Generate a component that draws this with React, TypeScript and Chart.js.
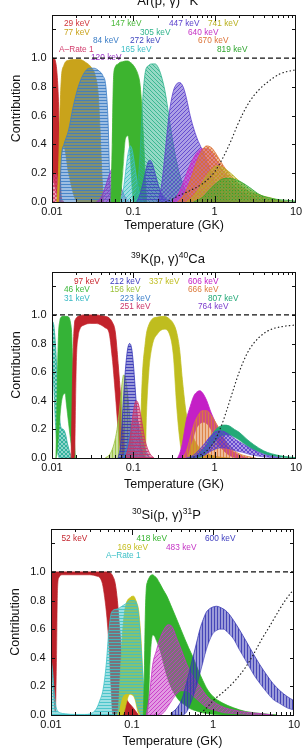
import React, { useEffect, useRef } from 'react';
import { Chart, registerables } from 'chart.js';

Chart.register(...registerables);

const FONT = "'Liberation Sans', Arial, Helvetica, sans-serif";
const INK = '#111111';

// Shared reference line at unit contribution
const unityT = [0.01, 10];
const unityV = [1, 1];

// ---------- 38Ar(p,γ)39K : contribution bands (lower / upper) ----------
const ar29T = [0.01, 0.0105, 0.011, 0.0115, 0.012, 0.0125, 0.013];
const ar29Hi = [1.0, 1.0, 0.98, 0.9, 0.7, 0.3, 0];
const ar29Lo = [0.2, 0.15, 0.1, 0.05, 0.02, 0, 0];

const arAT = [0.01, 0.0105, 0.011, 0.0115, 0.012, 0.013, 0.014];
const arAHi = [0.12, 0.18, 0.2, 0.18, 0.12, 0.03, 0];
const arALo = [0, 0, 0, 0, 0, 0, 0];

const ar77T = [0.0115, 0.012, 0.0125, 0.013, 0.014, 0.016, 0.019, 0.022, 0.026, 0.03, 0.034, 0.037, 0.039, 0.041, 0.043];
const ar77Hi = [0, 0.2, 0.6, 0.85, 0.95, 0.985, 0.99, 0.99, 0.97, 0.94, 0.88, 0.75, 0.5, 0.2, 0];
const ar77Lo = [0, 0, 0.15, 0.3, 0.38, 0.2, 0.03, 0, 0, 0, 0, 0, 0, 0, 0];

const ar84T = [0.0125, 0.013, 0.014, 0.016, 0.018, 0.021, 0.025, 0.029, 0.033, 0.038, 0.042, 0.046, 0.049, 0.051, 0.053];
const ar84Hi = [0, 0.3, 0.4, 0.5, 0.65, 0.8, 0.9, 0.93, 0.93, 0.91, 0.88, 0.8, 0.55, 0.2, 0];
const ar84Lo = [0, 0, 0, 0, 0, 0, 0, 0, 0, 0, 0, 0, 0, 0, 0];

const ar120T = [0.035, 0.04, 0.045, 0.05, 0.055, 0.06, 0.066, 0.073, 0.08, 0.09];
const ar120Hi = [0, 0.03, 0.1, 0.18, 0.23, 0.22, 0.16, 0.08, 0.03, 0];
const ar120Lo = [0, 0, 0, 0, 0, 0, 0, 0, 0, 0];

const ar147T = [0.053, 0.055, 0.057, 0.06, 0.065, 0.068, 0.074, 0.08, 0.086, 0.092, 0.097, 0.1, 0.108, 0.115, 0.12, 0.125, 0.13, 0.135, 0.14, 0.146];
const ar147Hi = [0, 0.4, 0.85, 0.94, 0.96, 0.97, 0.975, 0.98, 0.98, 0.97, 0.96, 0.95, 0.92, 0.88, 0.83, 0.72, 0.56, 0.38, 0.18, 0];
const ar147Lo = [0, 0, 0, 0, 0, 0, 0.2, 0.44, 0.46, 0.3, 0.08, 0, 0, 0, 0, 0, 0, 0, 0, 0];

const ar165T = [0.07, 0.076, 0.082, 0.087, 0.092, 0.097, 0.103, 0.11, 0.118, 0.127, 0.135];
const ar165Hi = [0, 0.1, 0.25, 0.35, 0.39, 0.36, 0.27, 0.16, 0.07, 0.02, 0];
const ar165Lo = [0, 0, 0, 0, 0, 0, 0, 0, 0, 0, 0];

const ar305T = [0.1, 0.11, 0.12, 0.13, 0.14, 0.155, 0.17, 0.185, 0.2, 0.22, 0.245, 0.27, 0.3, 0.34, 0.4, 0.48, 0.6];
const ar305Hi = [0, 0.08, 0.3, 0.7, 0.9, 0.95, 0.96, 0.96, 0.94, 0.88, 0.77, 0.62, 0.45, 0.28, 0.13, 0.04, 0];
const ar305Lo = [0, 0, 0, 0, 0, 0, 0, 0, 0, 0, 0, 0, 0, 0, 0, 0, 0];

const ar272T = [0.11, 0.12, 0.13, 0.14, 0.15, 0.16, 0.17, 0.185, 0.2, 0.22, 0.25, 0.28];
const ar272Hi = [0, 0.05, 0.12, 0.2, 0.27, 0.29, 0.27, 0.2, 0.13, 0.06, 0.02, 0];
const ar272Lo = [0, 0, 0, 0, 0, 0, 0, 0, 0, 0, 0, 0];

const ar447T = [0.2, 0.22, 0.24, 0.26, 0.28, 0.31, 0.34, 0.37, 0.41, 0.45, 0.5, 0.56, 0.63, 0.72, 0.85, 1.0, 1.2, 1.5];
const ar447Hi = [0, 0.1, 0.28, 0.48, 0.64, 0.77, 0.82, 0.83, 0.8, 0.72, 0.6, 0.5, 0.42, 0.35, 0.24, 0.14, 0.06, 0];
const ar447Lo = [0, 0, 0, 0, 0, 0, 0, 0, 0, 0, 0, 0, 0, 0, 0, 0, 0, 0];

const ar640T = [0.3, 0.36, 0.42, 0.5, 0.6, 0.7, 0.8, 0.95, 1.1, 1.3, 1.6, 2.0, 2.6, 3.5, 5];
const ar640Hi = [0, 0.06, 0.15, 0.26, 0.34, 0.37, 0.37, 0.33, 0.27, 0.2, 0.13, 0.08, 0.04, 0.015, 0];
const ar640Lo = [0, 0, 0, 0, 0, 0, 0, 0, 0, 0, 0, 0, 0, 0, 0];

const ar670T = [0.35, 0.42, 0.5, 0.6, 0.7, 0.8, 0.9, 1.0, 1.16, 1.4, 1.86, 2.5, 3.3, 4.5, 5.8, 8];
const ar670Hi = [0, 0.05, 0.15, 0.28, 0.36, 0.39, 0.38, 0.35, 0.29, 0.22, 0.14, 0.08, 0.05, 0.02, 0.01, 0];
const ar670Lo = [0, 0, 0, 0, 0, 0, 0, 0, 0, 0, 0, 0, 0, 0, 0, 0];

const ar741T = [0.45, 0.55, 0.65, 0.75, 0.9, 1.06, 1.25, 1.5, 1.8, 2.26, 3, 4, 4.8, 7];
const ar741Hi = [0, 0.04, 0.1, 0.16, 0.22, 0.25, 0.24, 0.21, 0.17, 0.12, 0.07, 0.04, 0.03, 0];
const ar741Lo = [0, 0, 0, 0, 0, 0, 0, 0, 0, 0, 0, 0, 0, 0];

const ar819T = [0.55, 0.7, 0.85, 1.0, 1.2, 1.4, 1.7, 2.1, 2.7, 3.6, 5, 6.5, 8.5, 10];
const ar819Hi = [0, 0.03, 0.08, 0.12, 0.155, 0.165, 0.16, 0.14, 0.1, 0.05, 0.025, 0.015, 0.01, 0.005];
const ar819Lo = [0, 0, 0, 0, 0, 0, 0, 0, 0, 0, 0, 0, 0, 0];

const arTotalT = [0.25, 0.3, 0.35, 0.5, 0.72, 1.0, 1.27, 1.6, 1.86, 2.2, 2.7, 3.5, 4.4, 6.3, 10];
const arTotalV = [0, 0.02, 0.04, 0.08, 0.13, 0.21, 0.31, 0.43, 0.52, 0.61, 0.7, 0.78, 0.83, 0.89, 0.92];

const arLabelText = ['29 keV', '77 keV', '84 keV', 'A–Rate 1', '120 keV', '147 keV', '305 keV', '272 keV', '165 keV', '447 keV', '640 keV', '670 keV', '741 keV', '819 keV'];

// ---------- 39K(p,γ)40Ca ----------
const k31T = [0.01, 0.0105, 0.011, 0.0115, 0.012, 0.0125, 0.013, 0.0138, 0.0146, 0.0155, 0.0165, 0.0175];
const k31Hi = [0.96, 0.93, 0.8, 0.6, 0.4, 0.26, 0.21, 0.2, 0.17, 0.1, 0.04, 0];
const k31Lo = [0.72, 0.5, 0.25, 0.08, 0.01, 0, 0, 0, 0, 0, 0, 0];

const k46T = [0.0112, 0.0116, 0.012, 0.0125, 0.013, 0.0137, 0.0145, 0.015, 0.016, 0.0168, 0.0175, 0.018, 0.0185, 0.019, 0.0195];
const k46Hi = [0, 0.5, 0.85, 0.96, 0.985, 0.99, 0.99, 0.99, 0.985, 0.95, 0.85, 0.6, 0.3, 0.08, 0];
const k46Lo = [0, 0.05, 0.15, 0.28, 0.38, 0.44, 0.45, 0.38, 0.24, 0.14, 0.06, 0.01, 0, 0, 0];

const k97T = [0.0172, 0.0178, 0.0185, 0.019, 0.0195, 0.02, 0.021, 0.022, 0.025, 0.03, 0.035, 0.04, 0.045, 0.05, 0.055, 0.06, 0.065, 0.07, 0.074, 0.078, 0.081];
const k97Hi = [0, 0.5, 0.85, 0.95, 0.97, 0.98, 0.99, 0.995, 1.0, 1.0, 1.0, 0.995, 0.99, 0.98, 0.95, 0.88, 0.66, 0.42, 0.24, 0.05, 0];
const k97Lo = [0, 0, 0, 0.02, 0.4, 0.7, 0.85, 0.9, 0.93, 0.94, 0.94, 0.93, 0.91, 0.88, 0.7, 0.45, 0.2, 0.03, 0, 0, 0];

const k337T = [0.12, 0.125, 0.13, 0.14, 0.145, 0.155, 0.17, 0.2, 0.24, 0.28, 0.31, 0.34, 0.37, 0.4, 0.45, 0.55, 0.72, 0.9, 1.2, 1.5];
const k337Hi = [0, 0.35, 0.6, 0.8, 0.87, 0.93, 0.97, 0.985, 0.99, 0.97, 0.94, 0.88, 0.76, 0.55, 0.3, 0.14, 0.045, 0.02, 0.005, 0];
const k337Lo = [0, 0, 0, 0, 0.3, 0.6, 0.78, 0.87, 0.9, 0.86, 0.72, 0.37, 0.14, 0.02, 0, 0, 0, 0, 0, 0];

const k156T = [0.045, 0.052, 0.058, 0.063, 0.068, 0.072, 0.076, 0.08, 0.085, 0.09, 0.095, 0.1, 0.11, 0.12];
const k156Hi = [0, 0.03, 0.1, 0.2, 0.35, 0.5, 0.58, 0.56, 0.45, 0.3, 0.17, 0.08, 0.02, 0];
const k156Lo = [0, 0, 0, 0, 0, 0, 0, 0, 0, 0, 0, 0, 0, 0];

const k212T = [0.065, 0.07, 0.075, 0.08, 0.085, 0.09, 0.095, 0.1, 0.105, 0.11, 0.12, 0.13, 0.14];
const k212Hi = [0, 0.1, 0.38, 0.62, 0.76, 0.8, 0.77, 0.66, 0.5, 0.34, 0.12, 0.03, 0];
const k212Lo = [0, 0, 0, 0, 0, 0, 0, 0, 0, 0, 0, 0, 0];

const k223T = [0.075, 0.085, 0.095, 0.105, 0.115, 0.125, 0.14, 0.16];
const k223Hi = [0, 0.1, 0.22, 0.28, 0.25, 0.16, 0.06, 0];
const k223Lo = [0, 0, 0, 0, 0, 0, 0, 0];

const k251T = [0.08, 0.09, 0.1, 0.108, 0.115, 0.125, 0.14, 0.16, 0.18];
const k251Hi = [0, 0.12, 0.32, 0.4, 0.38, 0.28, 0.12, 0.03, 0];
const k251Lo = [0, 0, 0, 0, 0, 0, 0, 0, 0];

const k606T = [0.35, 0.37, 0.4, 0.45, 0.5, 0.55, 0.6, 0.66, 0.72, 0.8, 0.9, 1.0, 1.1, 1.25, 1.5, 2.0, 2.5];
const k606Hi = [0, 0.03, 0.1, 0.27, 0.36, 0.43, 0.46, 0.47, 0.45, 0.4, 0.32, 0.26, 0.2, 0.14, 0.07, 0.02, 0];
const k606Lo = [0, 0, 0, 0, 0.08, 0.15, 0.21, 0.24, 0.25, 0.24, 0.2, 0.15, 0.1, 0.06, 0.02, 0, 0];

const k666T = [0.4, 0.45, 0.5, 0.56, 0.63, 0.7, 0.8, 0.9, 1.0, 1.15, 1.3, 1.6, 2.0, 2.6, 3.2];
const k666Hi = [0, 0.05, 0.14, 0.24, 0.3, 0.33, 0.33, 0.3, 0.26, 0.2, 0.14, 0.07, 0.03, 0.01, 0];
const k666Lo = [0, 0, 0, 0, 0, 0, 0, 0, 0, 0, 0, 0, 0, 0, 0];

const k807T = [0.5, 0.6, 0.7, 0.8, 0.9, 1.0, 1.15, 1.3, 1.5, 1.75, 2.0, 2.5, 3.0, 4.0, 5.0, 6.5, 8.5, 10];
const k807Hi = [0, 0.02, 0.05, 0.1, 0.15, 0.19, 0.22, 0.23, 0.225, 0.2, 0.18, 0.13, 0.095, 0.05, 0.03, 0.015, 0.006, 0.003];
const k807Lo = [0, 0, 0.01, 0.04, 0.08, 0.11, 0.145, 0.16, 0.16, 0.145, 0.125, 0.085, 0.06, 0.03, 0.015, 0.006, 0.002, 0];

const k764T = [0.45, 0.55, 0.65, 0.75, 0.85, 1.0, 1.15, 1.3, 1.5, 1.8, 2.2, 2.7, 3.3, 4, 5, 6.5];
const k764Hi = [0, 0.02, 0.06, 0.1, 0.14, 0.18, 0.19, 0.185, 0.165, 0.13, 0.1, 0.07, 0.045, 0.025, 0.012, 0];
const k764Lo = [0, 0, 0.01, 0.02, 0.04, 0.06, 0.07, 0.07, 0.065, 0.05, 0.04, 0.025, 0.015, 0.008, 0.003, 0];

const kTotalT = [0.5, 0.65, 0.8, 1.0, 1.2, 1.4, 1.7, 2.0, 2.5, 3.0, 4.0, 5.0, 7.0, 10];
const kTotalV = [0, 0.02, 0.05, 0.12, 0.22, 0.33, 0.48, 0.6, 0.73, 0.8, 0.87, 0.9, 0.92, 0.93];

const kLabelText = ['97 keV', '46 keV', '31 keV', '212 keV', '156 keV', '223 keV', '251 keV', '337 keV', '606 keV', '666 keV', '807 keV', '764 keV'];

// ---------- 30Si(p,γ)31P ----------
const si52T = [0.01, 0.0105, 0.011, 0.0113, 0.0117, 0.012, 0.0125, 0.014, 0.02, 0.03, 0.037, 0.04, 0.043, 0.046, 0.049, 0.052, 0.055, 0.058, 0.062, 0.066, 0.07, 0.075, 0.08, 0.085, 0.09, 0.1, 0.11, 0.12];
const si52Hi = [1, 1, 1, 1, 1, 1, 1, 1, 1, 1, 1, 1, 1, 1, 1, 1, 0.99, 0.97, 0.92, 0.8, 0.62, 0.4, 0.22, 0.12, 0.09, 0.06, 0.03, 0];
const si52Lo = [0.4, 0.25, 0.08, 0.02, 0.4, 0.85, 0.96, 0.98, 0.98, 0.98, 0.97, 0.96, 0.92, 0.82, 0.68, 0.48, 0.2, 0, 0, 0, 0, 0, 0, 0, 0, 0, 0, 0];

const si169T = [0.064, 0.068, 0.072, 0.076, 0.08, 0.085, 0.09, 0.095, 0.1, 0.105, 0.11, 0.115, 0.12, 0.125, 0.13, 0.135, 0.14, 0.145, 0.15];
const si169Hi = [0, 0.05, 0.3, 0.55, 0.7, 0.78, 0.81, 0.82, 0.83, 0.83, 0.81, 0.78, 0.74, 0.64, 0.5, 0.3, 0.12, 0.02, 0];
const si169Lo = [0, 0, 0, 0, 0.02, 0.08, 0.13, 0.145, 0.14, 0.13, 0.1, 0.05, 0.01, 0, 0, 0, 0, 0, 0];

const siAT = [0.01, 0.0105, 0.011, 0.0115, 0.012, 0.013, 0.015, 0.02, 0.026, 0.031, 0.036, 0.04, 0.044, 0.048, 0.052, 0.056, 0.065, 0.075, 0.085, 0.095, 0.105, 0.112, 0.118, 0.124, 0.13, 0.136, 0.142, 0.148, 0.155];
const siAHi = [0.4, 0.3, 0.15, 0.06, 0.03, 0.015, 0.008, 0.004, 0.004, 0.01, 0.04, 0.1, 0.18, 0.35, 0.6, 0.72, 0.74, 0.76, 0.78, 0.8, 0.8, 0.79, 0.74, 0.62, 0.45, 0.28, 0.13, 0.04, 0];
const siALo = [0, 0, 0, 0, 0, 0, 0, 0, 0, 0, 0, 0, 0, 0, 0, 0, 0, 0.12, 0.15, 0.15, 0.14, 0.1, 0.05, 0.02, 0, 0, 0, 0, 0];

const si418T = [0.138, 0.142, 0.146, 0.15, 0.155, 0.16, 0.165, 0.17, 0.18, 0.19, 0.2, 0.22, 0.24, 0.27, 0.3, 0.35, 0.4, 0.45, 0.5, 0.57, 0.65, 0.75, 0.85, 1.0, 1.3, 1.8, 2.5, 4, 6];
const si418Hi = [0, 0.3, 0.7, 0.88, 0.93, 0.95, 0.965, 0.975, 0.98, 0.97, 0.96, 0.92, 0.88, 0.83, 0.77, 0.68, 0.6, 0.53, 0.47, 0.4, 0.32, 0.24, 0.18, 0.13, 0.085, 0.05, 0.025, 0.01, 0];
const si418Lo = [0, 0, 0, 0, 0.02, 0.1, 0.3, 0.45, 0.56, 0.55, 0.52, 0.46, 0.38, 0.27, 0.2, 0.13, 0.09, 0.07, 0.05, 0.035, 0.025, 0.015, 0.01, 0.005, 0, 0, 0, 0, 0];

const si483T = [0.15, 0.165, 0.18, 0.2, 0.22, 0.25, 0.28, 0.31, 0.36, 0.41, 0.47, 0.55, 0.69, 0.85, 1.1, 1.4, 1.8, 2.5, 3.8, 5.5];
const si483Hi = [0, 0.15, 0.35, 0.45, 0.53, 0.6, 0.63, 0.62, 0.53, 0.45, 0.36, 0.28, 0.2, 0.13, 0.08, 0.05, 0.035, 0.02, 0.01, 0];
const si483Lo = [0, 0, 0, 0, 0, 0.02, 0.06, 0.1, 0.15, 0.17, 0.17, 0.14, 0.09, 0.05, 0.03, 0.015, 0.01, 0.005, 0, 0];

const si600T = [0.3, 0.36, 0.42, 0.47, 0.52, 0.57, 0.63, 0.69, 0.76, 0.83, 0.92, 1.0, 1.1, 1.2, 1.35, 1.5, 1.8, 2.1, 2.6, 3.2, 3.8, 4.6, 5.5, 6.7, 8.2, 10];
const si600Hi = [0.01, 0.05, 0.12, 0.22, 0.32, 0.41, 0.51, 0.6, 0.67, 0.72, 0.745, 0.755, 0.76, 0.755, 0.74, 0.72, 0.66, 0.6, 0.51, 0.42, 0.35, 0.28, 0.22, 0.17, 0.13, 0.1];
const si600Lo = [0, 0, 0, 0.02, 0.07, 0.13, 0.21, 0.29, 0.38, 0.46, 0.53, 0.57, 0.59, 0.6, 0.6, 0.58, 0.53, 0.46, 0.37, 0.28, 0.22, 0.16, 0.11, 0.08, 0.05, 0.035];

const siTotalT = [0.65, 0.8, 1.0, 1.4, 1.8, 2.5, 3.2, 4.0, 5.0, 6.5, 8.0, 10];
const siTotalV = [0, 0.04, 0.1, 0.17, 0.23, 0.33, 0.43, 0.53, 0.62, 0.73, 0.81, 0.88];

const siLabelText = ['52 keV', '418 keV', '600 keV', '169 keV', '483 keV', 'A–Rate 1'];

// ---------- presentation ----------
type Hatch = 'solid' | 'h' | 'v' | 'd' | 'b' | 'x' | 'dot';
interface Band { key: string; color: string; hatch: Hatch; t: number[]; lo: number[]; hi: number[] }

const arBands: Band[] = [
  { key: '29 keV', color: '#c3272b', hatch: 'solid', t: ar29T, lo: ar29Lo, hi: ar29Hi },
  { key: 'A–Rate 1', color: '#d23c6c', hatch: 'x', t: arAT, lo: arALo, hi: arAHi },
  { key: '77 keV', color: '#c9a31b', hatch: 'solid', t: ar77T, lo: ar77Lo, hi: ar77Hi },
  { key: '84 keV', color: '#3b7dc6', hatch: 'h', t: ar84T, lo: ar84Lo, hi: ar84Hi },
  { key: '120 keV', color: '#8c39c4', hatch: 'd', t: ar120T, lo: ar120Lo, hi: ar120Hi },
  { key: '147 keV', color: '#3db42f', hatch: 'solid', t: ar147T, lo: ar147Lo, hi: ar147Hi },
  { key: '165 keV', color: '#3fbfc6', hatch: 'd', t: ar165T, lo: ar165Lo, hi: ar165Hi },
  { key: '305 keV', color: '#2eb38b', hatch: 'b', t: ar305T, lo: ar305Lo, hi: ar305Hi },
  { key: '272 keV', color: '#3f46bf', hatch: 'h', t: ar272T, lo: ar272Lo, hi: ar272Hi },
  { key: '447 keV', color: '#5a3fcc', hatch: 'd', t: ar447T, lo: ar447Lo, hi: ar447Hi },
  { key: '640 keV', color: '#c530c5', hatch: 'x', t: ar640T, lo: ar640Lo, hi: ar640Hi },
  { key: '670 keV', color: '#dc7136', hatch: 'x', t: ar670T, lo: ar670Lo, hi: ar670Hi },
  { key: '741 keV', color: '#b8b01e', hatch: 'dot', t: ar741T, lo: ar741Lo, hi: ar741Hi },
  { key: '819 keV', color: '#2ea52e', hatch: 'dot', t: ar819T, lo: ar819Lo, hi: ar819Hi },
];

const kBands: Band[] = [
  { key: '31 keV', color: '#24ad98', hatch: 'x', t: k31T, lo: k31Lo, hi: k31Hi },
  { key: '46 keV', color: '#35b337', hatch: 'solid', t: k46T, lo: k46Lo, hi: k46Hi },
  { key: '97 keV', color: '#c2232b', hatch: 'solid', t: k97T, lo: k97Lo, hi: k97Hi },
  { key: '337 keV', color: '#bfbd1f', hatch: 'solid', t: k337T, lo: k337Lo, hi: k337Hi },
  { key: '156 keV', color: '#98c23c', hatch: 'v', t: k156T, lo: k156Lo, hi: k156Hi },
  { key: '212 keV', color: '#3434b6', hatch: 'h', t: k212T, lo: k212Lo, hi: k212Hi },
  { key: '223 keV', color: '#3b7fca', hatch: 'b', t: k223T, lo: k223Lo, hi: k223Hi },
  { key: '251 keV', color: '#cb3468', hatch: 'h', t: k251T, lo: k251Lo, hi: k251Hi },
  { key: '606 keV', color: '#c420c6', hatch: 'solid', t: k606T, lo: k606Lo, hi: k606Hi },
  { key: '666 keV', color: '#dc7a3a', hatch: 'v', t: k666T, lo: k666Lo, hi: k666Hi },
  { key: '807 keV', color: '#23a977', hatch: 'solid', t: k807T, lo: k807Lo, hi: k807Hi },
  { key: '764 keV', color: '#5a3ccc', hatch: 'x', t: k764T, lo: k764Lo, hi: k764Hi },
];

const siBands: Band[] = [
  { key: '52 keV', color: '#ba2129', hatch: 'solid', t: si52T, lo: si52Lo, hi: si52Hi },
  { key: '169 keV', color: '#cac31e', hatch: 'solid', t: si169T, lo: si169Lo, hi: si169Hi },
  { key: 'A–Rate 1', color: '#3ec1c7', hatch: 'h', t: siAT, lo: siALo, hi: siAHi },
  { key: '418 keV', color: '#31b12b', hatch: 'solid', t: si418T, lo: si418Lo, hi: si418Hi },
  { key: '483 keV', color: '#c534c5', hatch: 'd', t: si483T, lo: si483Lo, hi: si483Hi },
  { key: '600 keV', color: '#3737b3', hatch: 'v', t: si600T, lo: si600Lo, hi: si600Hi },
];

// annotation layout (canvas px) and colours
const arLabelX = [64, 64, 93, 59, 91, 111, 140, 130, 121, 169, 188, 198, 208, 217];
const arLabelRow = [0, 1, 2, 3, 4, 0, 1, 2, 3, 0, 1, 2, 0, 3];
const arLabelColor = ['#d0343a', '#c9a31b', '#3b7dc6', '#d23c6c', '#9b35c8', '#4ab83a', '#2eb38b', '#3f46bf', '#3fbfc6', '#5a3fcc', '#c530c5', '#dc7136', '#b8b01e', '#2ea52e'];

const kLabelX = [74, 64, 64, 110, 110, 120, 120, 149, 188, 188, 208, 198];
const kLabelRow = [0, 1, 2, 0, 1, 2, 3, 0, 0, 1, 2, 3];
const kLabelColor = ['#c9262e', '#3db83a', '#35b8c4', '#3c3cbf', '#9cc23a', '#3b7fca', '#cb3468', '#bfbd1f', '#c420c6', '#dc7a3a', '#23a977', '#7a3ccc'];

const siLabelX = [61.5, 136.5, 205, 117.5, 166, 106];
const siLabelRow = [0, 0, 0, 1, 1, 2];
const siLabelColor = ['#c4262e', '#35b32e', '#4040c0', '#c4bd1e', '#c534c5', '#3ec1c7'];

interface PanelSpec {
  top: number;
  height: number;
  area: { left: number; right: number; top: number; bottom: number };
  bands: Band[];
  totalT: number[];
  totalV: number[];
  title: [string, boolean][];
  titleX: number;
  titleY: number;
  labels: string[];
  labelX: number[];
  labelRow: number[];
  labelColor: string[];
  rowTop: number;
  rowGap: number;
  xTitleY: number;
  yTitleX: number;
}

const PANELS: PanelSpec[] = [
  {
    top: 0, height: 240, area: { left: 52, right: 296, top: 15, bottom: 202 },
    bands: arBands, totalT: arTotalT, totalV: arTotalV,
    title: [['38', true], ['Ar(p, γ)', false], ['39', true], ['K', false]], titleX: 163, titleY: 4.5,
    labels: arLabelText, labelX: arLabelX, labelRow: arLabelRow, labelColor: arLabelColor, rowTop: 9, rowGap: 8.5,
    xTitleY: 226, yTitleX: 16.7,
  },
  {
    top: 240, height: 257, area: { left: 52, right: 296, top: 32, bottom: 218 },
    bands: kBands, totalT: kTotalT, totalV: kTotalV,
    title: [['39', true], ['K(p, γ)', false], ['40', true], ['Ca', false]], titleX: 168, titleY: 22.5,
    labels: kLabelText, labelX: kLabelX, labelRow: kLabelRow, labelColor: kLabelColor, rowTop: 9.7, rowGap: 8.4,
    xTitleY: 245, yTitleX: 16.7,
  },
  {
    top: 497, height: 256, area: { left: 51, right: 294, top: 32, bottom: 218 },
    bands: siBands, totalT: siTotalT, totalV: siTotalV,
    title: [['30', true], ['Si(p, γ)', false], ['31', true], ['P', false]], titleX: 166.5, titleY: 22,
    labels: siLabelText, labelX: siLabelX, labelRow: siLabelRow, labelColor: siLabelColor, rowTop: 10, rowGap: 8.4,
    xTitleY: 245, yTitleX: 15.5,
  },
];

function rgba(hex: string, a: number) {
  const n = parseInt(hex.slice(1), 16);
  return `rgba(${(n >> 16) & 255},${(n >> 8) & 255},${n & 255},${a})`;
}

function makeFill(color: string, hatch: Hatch): string | CanvasPattern {
  if (hatch === 'solid') return color;
  const s = hatch === 'h' || hatch === 'v' || hatch === 'dot' ? 3 : 4;
  const c = document.createElement('canvas');
  c.width = s;
  c.height = s;
  const g = c.getContext('2d')!;
  g.fillStyle = rgba(color, 0.5);
  g.fillRect(0, 0, s, s);
  g.strokeStyle = rgba(color, 0.95);
  g.fillStyle = rgba(color, 0.95);
  g.lineWidth = 0.9;
  g.beginPath();
  const slash = () => {
    g.moveTo(0, s); g.lineTo(s, 0);
    g.moveTo(-1, 1); g.lineTo(1, -1);
    g.moveTo(s - 1, s + 1); g.lineTo(s + 1, s - 1);
  };
  const backslash = () => {
    g.moveTo(0, 0); g.lineTo(s, s);
    g.moveTo(-1, s - 1); g.lineTo(1, s + 1);
    g.moveTo(s - 1, -1); g.lineTo(s + 1, 1);
  };
  if (hatch === 'h') { g.moveTo(0, 1.5); g.lineTo(s, 1.5); }
  if (hatch === 'v') { g.moveTo(1.5, 0); g.lineTo(1.5, s); }
  if (hatch === 'd') slash();
  if (hatch === 'b') backslash();
  if (hatch === 'x') { slash(); backslash(); }
  g.stroke();
  if (hatch === 'dot') g.fillRect(1, 1, 1, 1);
  return g.createPattern(c, 'repeat')!;
}

function xTick(value: number | string) {
  const n = Number(value);
  const l = Math.log10(n);
  if (Math.abs(l - Math.round(l)) > 1e-6) return '';
  const e = Math.round(l);
  return e >= 0 ? String(Math.round(n)) : n.toFixed(-e);
}

function yTick(value: number | string) {
  const n = Number(value);
  if (n > 1.0001) return '';
  const k = Math.round(n * 5);
  return Math.abs(n * 5 - k) < 1e-6 ? n.toFixed(1) : '';
}

function decor(p: PanelSpec) {
  return {
    id: 'decor',
    beforeDatasetsDraw(chart: any) {
      const { ctx, chartArea: a } = chart;
      ctx.save();
      ctx.font = `8.3px ${FONT}`;
      ctx.textBaseline = 'middle';
      ctx.textAlign = 'left';
      p.labels.forEach((txt, i) => {
        ctx.fillStyle = p.labelColor[i];
        ctx.fillText(txt, p.labelX[i], a.top + p.rowTop + p.labelRow[i] * p.rowGap);
      });
      ctx.restore();
    },
    afterDatasetsDraw(chart: any) {
      const { ctx, chartArea: a, scales } = chart;
      const xs = scales.x;
      const ys = scales.y;
      ctx.save();
      ctx.strokeStyle = INK;
      ctx.lineWidth = 1;
      ctx.beginPath();
      for (let e = -2; e <= 0; e++) {
        for (let m = 1; m <= 9; m++) {
          const px = Math.round(xs.getPixelForValue(m * Math.pow(10, e))) + 0.5;
          const len = m === 1 ? 6 : 3;
          ctx.moveTo(px, a.bottom);
          ctx.lineTo(px, a.bottom - len);
          ctx.moveTo(px, a.top);
          ctx.lineTo(px, a.top + len);
        }
      }
      for (let k = 1; k <= 6; k++) {
        const py = Math.round(ys.getPixelForValue(k * 0.2)) + 0.5;
        ctx.moveTo(a.left, py);
        ctx.lineTo(a.left + 4, py);
        ctx.moveTo(a.right, py);
        ctx.lineTo(a.right - 4, py);
      }
      ctx.stroke();
      ctx.strokeRect(a.left + 0.5, a.top + 0.5, a.right - a.left - 1, a.bottom - a.top);
      ctx.restore();
    },
    afterDraw(chart: any) {
      const ctx = chart.ctx;
      ctx.save();
      ctx.fillStyle = INK;
      ctx.textBaseline = 'alphabetic';
      ctx.textAlign = 'left';
      const fontOf = (sup: boolean) => (sup ? `8.5px ${FONT}` : `13px ${FONT}`);
      let total = 0;
      const widths = p.title.map(([t, sup]) => {
        ctx.font = fontOf(sup);
        const w = ctx.measureText(t).width;
        total += w;
        return w;
      });
      let x = p.titleX - total / 2;
      p.title.forEach(([t, sup], i) => {
        ctx.font = fontOf(sup);
        ctx.fillText(t, x, p.titleY - (sup ? 5 : 0));
        x += widths[i];
      });
      ctx.restore();
    },
  };
}

function buildChart(canvas: HTMLCanvasElement, p: PanelSpec) {
  const datasets: any[] = [];
  p.bands.forEach((b, i) => {
    const order = 100 - i;
    const hasLo = b.lo.some((v) => v > 0);
    datasets.push({
      label: `${b.key} lower`,
      data: b.t.map((x, j) => ({ x, y: b.lo[j] })),
      borderColor: b.color,
      borderWidth: hasLo ? 0.6 : 0,
      fill: false,
      order,
    });
    datasets.push({
      label: b.key,
      data: b.t.map((x, j) => ({ x, y: b.hi[j] })),
      borderColor: b.color,
      borderWidth: 0.8,
      backgroundColor: makeFill(b.color, b.hatch),
      fill: '-1',
      order,
    });
  });
  datasets.push({
    label: 'total',
    data: p.totalT.map((x, j) => ({ x, y: p.totalV[j] })),
    borderColor: '#222222',
    borderWidth: 1.2,
    borderDash: [0.5, 3.2],
    borderCapStyle: 'round',
    fill: false,
    order: 2,
  });
  datasets.push({
    label: 'unity',
    data: unityT.map((x, j) => ({ x, y: unityV[j] })),
    borderColor: INK,
    borderWidth: 1.1,
    borderDash: [5, 3],
    fill: false,
    order: 1,
  });

  return new Chart(canvas, {
    type: 'line',
    data: { datasets },
    options: {
      responsive: false,
      animation: false,
      events: [],
      layout: { padding: { left: 0, right: 302 - p.area.right, top: p.area.top, bottom: 0 } },
      elements: { point: { radius: 0 }, line: { cubicInterpolationMode: 'monotone' } },
      plugins: { legend: { display: false }, tooltip: { enabled: false }, title: { display: false } },
      scales: {
        x: {
          type: 'logarithmic',
          min: 0.01,
          max: 10,
          grid: { display: false, drawTicks: false },
          border: { display: false },
          ticks: { autoSkip: false, maxRotation: 0, padding: 3, color: INK, font: { family: FONT, size: 11 }, callback: xTick },
          title: {
            display: true,
            text: 'Temperature (GK)',
            color: INK,
            font: { family: FONT, size: 12.5 },
            padding: { top: 0, bottom: p.height - 7.5 - p.xTitleY },
          },
          afterFit: (s: any) => {
            s.height = p.height - p.area.bottom;
            s.paddingLeft = 0;
            s.paddingRight = 0;
          },
        },
        y: {
          type: 'linear',
          min: 0,
          max: 1.3,
          grid: { display: false, drawTicks: false },
          border: { display: false },
          ticks: { stepSize: 0.2, padding: 5.5, color: INK, font: { family: FONT, size: 11 }, callback: yTick },
          title: {
            display: true,
            text: 'Contribution',
            color: INK,
            font: { family: FONT, size: 12.5 },
            padding: { top: p.yTitleX - 7.5, bottom: 0 },
          },
          afterFit: (s: any) => {
            s.width = p.area.left;
            s.paddingTop = 0;
            s.paddingBottom = 0;
          },
        },
      },
    } as any,
    plugins: [decor(p)],
  });
}

function Panel({ spec }: { spec: PanelSpec }) {
  const ref = useRef<HTMLCanvasElement | null>(null);
  useEffect(() => {
    if (!ref.current) return;
    const chart = buildChart(ref.current, spec);
    return () => chart.destroy();
  }, [spec]);
  return (
    <canvas
      ref={ref}
      width={302}
      height={spec.height}
      style={{ position: 'absolute', left: 0, top: spec.top, width: 302, height: spec.height }}
    />
  );
}

export default function App() {
  return (
    <div style={{ position: 'absolute', left: 0, top: 0, width: 302, height: 753, background: '#ffffff', overflow: 'hidden' }}>
      {PANELS.map((p, i) => (
        <Panel key={i} spec={p} />
      ))}
    </div>
  );
}
